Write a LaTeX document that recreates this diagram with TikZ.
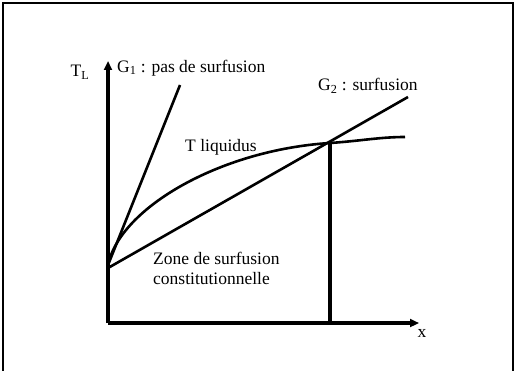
\documentclass[tikz,border=0pt]{standalone}
\usepackage{fontspec}
\setmainfont{Liberation Serif}
\usetikzlibrary{arrows.meta}
\begin{document}
\begin{tikzpicture}[x=1pt,y=-1pt,
  axis/.style={line width=3.2pt,-{Triangle[length=9pt,width=8pt]}},
  curve/.style={line width=2.6pt},
  lbl/.style={inner sep=0pt,font=\fontsize{17.5}{20}\selectfont},
  frameline/.style={line width=1.6pt}]
\useasboundingbox (0,0) rectangle (516,371);
% frame
\draw[frameline] (3,371) -- (3,3) -- (513,3) -- (513,371);
% key points
\coordinate (O) at (108,323);
\coordinate (Ytip) at (108,61);
\coordinate (Xtip) at (419,323);
\coordinate (A) at (108,265);
\coordinate (B) at (108,268);
\coordinate (P) at (330,143);
\coordinate (Pfoot) at (330,323);
\coordinate (G1end) at (180,85);
\coordinate (G2end) at (408,97);
\coordinate (Lend) at (405,137);
% axes
\draw[axis] (O) -- (Ytip);
\draw[axis] (O) -- (Xtip);
\draw[line width=3.2pt] (Pfoot) -- (P);
% lines
\draw[curve] (A) -- (G1end);
\draw[curve] (B) -- (G2end);
\draw[curve] (A) .. controls (120,208) and (220,150) .. (P)
  .. controls (360,141) and (380,137) .. (Lend);
% labels
\node[lbl,anchor=center] (tl) at (80,72) {T\textsubscript{L}};
\node[lbl,anchor=west] (g1) at (117,68) {G\textsubscript{1} : pas de surfusion};
\node[lbl,anchor=west] (g2) at (318,86) {G\textsubscript{2} : surfusion};
\node[lbl,anchor=west] (liq) at (185,147) {T liquidus};
\node[lbl,anchor=west,align=left] (zone) at (153,268) {Zone de surfusion\\constitutionnelle};
\node[lbl,anchor=center] (xl) at (422,333) {x};
\end{tikzpicture}
\end{document}
